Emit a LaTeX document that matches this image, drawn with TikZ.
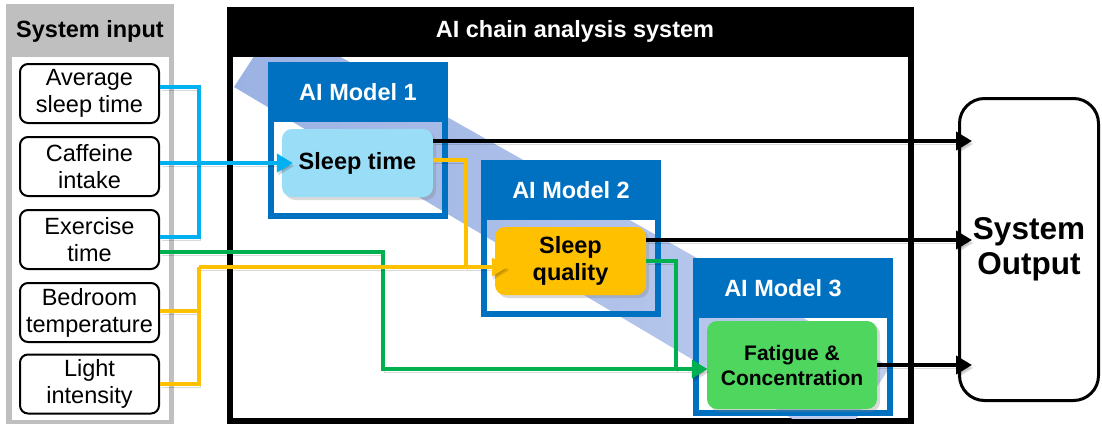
\documentclass[tikz,border=0pt]{standalone}
\usepackage{fontspec}
\setmainfont{Liberation Sans}
\usepackage{tikz}
\usetikzlibrary{positioning}
\usetikzlibrary{arrows.meta}
\usetikzlibrary{shadows}
\definecolor{panelgray}{RGB}{191,191,191}
\definecolor{modelblue}{RGB}{0,112,192}
\definecolor{wireblue}{RGB}{0,176,240}
\definecolor{wireyellow}{RGB}{255,192,0}
\definecolor{wiregreen}{RGB}{0,176,80}
\definecolor{sleepfill}{RGB}{153,221,247}
\definecolor{fatiguefill}{RGB}{78,214,94}
\definecolor{bandL}{RGB}{155,178,228}
\definecolor{bandR}{RGB}{192,206,238}
\tikzset{
inbox/.style=
    { % Boxes of the system input
        draw,
        line width=2pt,
        rounded corners=8pt,
        fill=white,
        inner sep=1pt,
        minimum width=139pt,
        minimum height=59pt,
        align=center,
        font=\fontsize{23.5}{27}\selectfont
    },
model/.style={draw=modelblue, line width=6pt, minimum width=174pt, minimum height=151pt}, % Frame of a model
modelhead/.style={fill=modelblue, text=white, minimum height=60pt, font=\bfseries\fontsize{23.5}{27}\selectfont},
result/.style=
    { % Output of one model
        rounded corners=10pt,
        inner sep=1pt,
        align=center,
        font=\bfseries\fontsize{23.5}{27}\selectfont,
        drop shadow={shadow xshift=3pt, shadow yshift=-3pt, opacity=0.3}
    },
shadowed/.style={preaction={draw=black, opacity=0.15, transform canvas={shift={(1.5pt,-3pt)}}}},
wire/.style={line width=4.6pt, shadowed, -{Triangle[length=16pt,width=18pt]}}, % Makes wires with bold arrowheads
bus/.style={line width=4.6pt, shadowed} % Wires without head
}

\begin{document}
\begin{tikzpicture}[x=1pt, y=-1pt]
    \useasboundingbox (0,0) rectangle (1102,426);
    % system input
    \fill[panelgray] (6,4) rectangle (174,424);
    \fill[white] (12,57) rectangle (169,420);
    \node[font=\bfseries\fontsize{23.5}{27}\selectfont] (inhead) at (90,31) {System input};
    \node[inbox] (i1) at (89.5,93.5) {Average\\sleep time};
    \node[inbox] (i2) at (89.5,166.5) {Caffeine\\intake};
    \node[inbox] (i3) at (89.5,239.5) {Exercise\\time};
    \node[inbox] (i4) at (89.5,312.5) {Bedroom\\temperature};
    \node[inbox] (i5) at (89.5,384) {Light\\intensity};
    % chain frame
    \draw[line width=6.5pt] (230,10) rectangle (911,421);
    \fill (227,7) rectangle (914,57);
    \node[text=white, font=\bfseries\fontsize{23.5}{27}\selectfont] (title) at (575,31) {AI chain analysis system};
    \begin{scope}
        \clip (233,57) rectangle (908,418);
        \shade[left color=bandL, right color=bandR] (277,21) -- (890,367) -- (838,446) -- (234,87) -- cycle;
    \end{scope}
    % models
    \node[model] (m1) at (358,140.5) {};
    \node[modelhead, minimum width=180pt] (h1) at (358,92) {AI Model 1};
    \node[model] (m2) at (571,238.5) {};
    \node[modelhead, minimum width=180pt] (h2) at (571,190) {AI Model 2};
    \node[model, minimum width=194pt, minimum height=152pt] (m3) at (793,337) {};
    \node[modelhead, minimum width=200pt] (h3) at (793,288) {AI Model 3\hspace*{20pt}};
    \node[result, fill=sleepfill, minimum width=151pt, minimum height=68pt] (s1) at (357.5,163) {Sleep time};
    \node[result, fill=wireyellow, minimum width=151pt, minimum height=68pt] (s2) at (570.5,261) {Sleep\\quality};
    \node[result, fill=fatiguefill, minimum width=170pt, minimum height=88pt,
          font=\bfseries\fontsize{21}{25}\selectfont] (s3) at (792,365) {Fatigue \&\\Concentration};
    \node[draw, line width=3pt, rounded corners=25pt, fill=white, minimum width=139pt, minimum height=302pt,
          align=center, font=\bfseries\fontsize{31.5}{35}\selectfont] (out) at (1029,249.5) {System\\Output};
    % wires
    \coordinate (bj) at (199,163);
    \coordinate (gj) at (383,369);
    \coordinate (gj2) at (676,369);
    \coordinate (yj) at (199,267);
    \coordinate (yj2) at (466,267);
    \draw[bus, wireblue] ([yshift=6.5pt]i1.east) -| (bj) |- ([yshift=2.5pt]i3.east);
    \draw[wire, wireblue, shorten >=-11pt] (i2.east |- s1.west) -- (s1.west);
    \draw[wire, wiregreen, shorten >=-1pt] ([yshift=-12.5pt]i3.east) -| (gj) -- (gj -| s3.west);
    \draw[bus, wiregreen] (s2.east) -| (gj2);
    \draw[bus, wireyellow] ([yshift=1.5pt]i4.east) -| (yj);
    \draw[bus, wireyellow] (i5.east) -| (yj);
    \draw[bus, wireyellow] ([yshift=3pt]s1.east) -| (yj2);
    \draw[wire, wireyellow, shorten >=-13pt] (yj) -- (yj -| s2.west);
    \draw[wire, shorten >=-14pt] ([yshift=22pt]s1.east) coordinate (k1) -- (k1 -| out.west);
    \draw[wire, shorten >=-14pt] ([yshift=21pt]s2.east) coordinate (k2) -- (k2 -| out.west);
    \draw[wire, shorten >=-14pt] (s3.east) -- (out.west |- s3.east);
\end{tikzpicture}
\end{document}
